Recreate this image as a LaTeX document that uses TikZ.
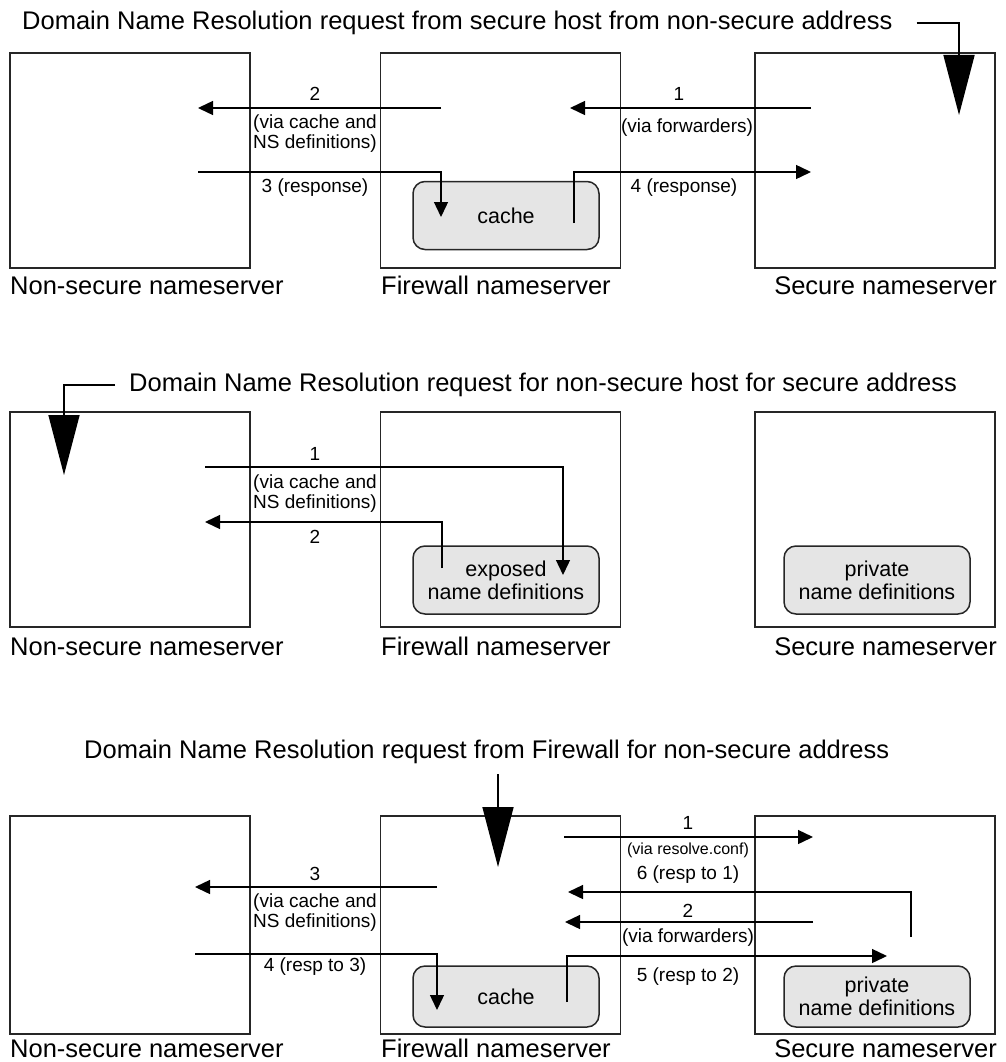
\documentclass[tikz,border=0pt]{standalone}
\usepackage{fontspec}
\setmainfont{Liberation Sans}
\usetikzlibrary{arrows.meta}
\begin{document}
\begin{tikzpicture}[x=1pt,y=-1pt,
  srv/.style={draw=black!85, line width=1.6pt, minimum width=240pt, minimum height=215pt, inner sep=0pt},
  store/.style={draw=black!85, line width=1.5pt, fill=black!10, rounded corners=12pt,
    minimum width=186pt, minimum height=68pt, inner sep=0pt, align=center,
    font=\fontsize{21.5}{23}\selectfont},
  lbl/.style={inner sep=0pt, font=\fontsize{25.5}{28}\selectfont},
  note/.style={inner sep=0pt, align=center, font=\fontsize{19}{20}\selectfont},
  tiny/.style={inner sep=0pt, font=\fontsize{16}{18}\selectfont},
  flow/.style={line width=1.4pt, -{Triangle[length=15pt,width=14pt]}},
  bigflow/.style={line width=1.6pt, -{Triangle[length=60pt,width=31pt]}}
]
\useasboundingbox (0,0) rectangle (1005,1062);

% ---------- first scenario ----------
\node[srv] (ns1) at (130,160.5) {};
\node[srv] (fw1) at (500.5,160.5) {};
\node[srv] (sc1) at (875,160.5) {};
\node[lbl, anchor=base west] (ns1l) at (10,294) {Non-secure nameserver};
\node[lbl, anchor=base west] (fw1l) at (381,294) {Firewall nameserver};
\node[lbl, anchor=base east] (sc1l) at (997,294) {Secure nameserver};
\node[store] (cache1) at (506,215.5) {cache};

\node[lbl, anchor=west] (t1) at (22,23) {Domain Name Resolution request from secure host from non-secure address};
\coordinate (t1tip) at (959,115);
\draw[bigflow] ([xshift=24pt]t1.east) -- (t1tip |- t1.east) -- (t1tip);

\coordinate (p1a) at (811,108); \coordinate (p1b) at (570,108);
\draw[flow] (p1a) -- (p1b);
\node[note] (p1n1) at (679,94) {1};
\node[note] (p1v1) at (687,128) {(via forwarders)};

\coordinate (p1c) at (441,108); \coordinate (p1d) at (198,108);
\draw[flow] (p1c) -- (p1d);
\node[note] (p1n2) at (315,94) {2};
\node[note] (p1v2) at (315,134) {(via cache and\\NS definitions)};

\coordinate (p1e) at (198,172); \coordinate (p1f) at (441,217);
\draw[flow] (p1e) -| (p1f);
\node[note] (p1n3) at (315,188) {3 (response)};

\coordinate (p1g) at (574,223); \coordinate (p1h) at (811,172);
\draw[flow] (p1g) |- (p1h);
\node[note] (p1n4) at (684,188) {4 (response)};

% ---------- second scenario ----------
\node[srv] (ns2) at (130,519.5) {};
\node[srv] (fw2) at (500.5,519.5) {};
\node[srv] (sc2) at (875,519.5) {};
\node[lbl, anchor=base west] (ns2l) at (10,655) {Non-secure nameserver};
\node[lbl, anchor=base west] (fw2l) at (381,655) {Firewall nameserver};
\node[lbl, anchor=base east] (sc2l) at (997,655) {Secure nameserver};
\node[store] (exp2) at (506,580) {exposed\\name definitions};
\node[store] (priv2) at (877,580) {private\\name definitions};

\node[lbl, anchor=west] (t2) at (129,385) {Domain Name Resolution request for non-secure host for secure address};
\coordinate (t2tip) at (64,475);
\draw[bigflow] ([xshift=-14pt]t2.west) -- (t2tip |- t2.west) -- (t2tip);

\coordinate (p2a) at (205,467); \coordinate (p2b) at (563,575);
\draw[flow] (p2a) -| (p2b);
\node[note] (p2n1) at (315,454) {1};
\node[note] (p2v1) at (315,494) {(via cache and\\NS definitions)};

\coordinate (p2c) at (442,568); \coordinate (p2d) at (205,522);
\draw[flow] (p2c) |- (p2d);
\node[note] (p2n2) at (315,537) {2};

% ---------- third scenario ----------
\node[srv, minimum height=218pt] (ns3) at (130,925) {};
\node[srv, minimum height=218pt] (fw3) at (500.5,925) {};
\node[srv, minimum height=218pt] (sc3) at (875,925) {};
\node[lbl, anchor=base west] (ns3l) at (10,1057) {Non-secure nameserver};
\node[lbl, anchor=base west] (fw3l) at (381,1057) {Firewall nameserver};
\node[lbl, anchor=base east] (sc3l) at (997,1057) {Secure nameserver};
\node[store, minimum height=61pt] (cache3) at (506,996.5) {cache};
\node[store, minimum height=61pt] (priv3) at (877,996.5) {private\\name definitions};

\node[lbl, anchor=west] (t3) at (84,752) {Domain Name Resolution request from Firewall for non-secure address};
\coordinate (t3top) at (498,774); \coordinate (t3tip) at (498,867);
\draw[bigflow] (t3top) -- (t3tip);

\coordinate (p3a) at (564,837); \coordinate (p3b) at (813,837);
\draw[flow] (p3a) -- (p3b);
\node[note] (p3n1) at (688,823) {1};
\node[tiny] (p3v1) at (688,850) {(via resolve.conf)};

\coordinate (p3c) at (911,937); \coordinate (p3d) at (568,892);
\draw[flow] (p3c) |- (p3d);
\node[note] (p3n6) at (688,875) {6 (resp to 1)};

\coordinate (p3e) at (813,922); \coordinate (p3f) at (565,922);
\draw[flow] (p3e) -- (p3f);
\node[note] (p3n2) at (688,911) {2};
\node[note] (p3v2) at (688,938) {(via forwarders)};

\coordinate (p3g) at (567,1002); \coordinate (p3h) at (887,956);
\draw[flow] (p3g) |- (p3h);
\node[note] (p3n5) at (688,977) {5 (resp to 2)};

\coordinate (p3i) at (437,887); \coordinate (p3j) at (195,887);
\draw[flow] (p3i) -- (p3j);
\node[note] (p3n3) at (315,874) {3};
\node[note] (p3v3) at (315,913) {(via cache and\\NS definitions)};

\coordinate (p3k) at (195,954); \coordinate (p3l) at (437,1010);
\draw[flow] (p3k) -| (p3l);
\node[note] (p3n4) at (315,967) {4 (resp to 3)};
\end{tikzpicture}
\end{document}
